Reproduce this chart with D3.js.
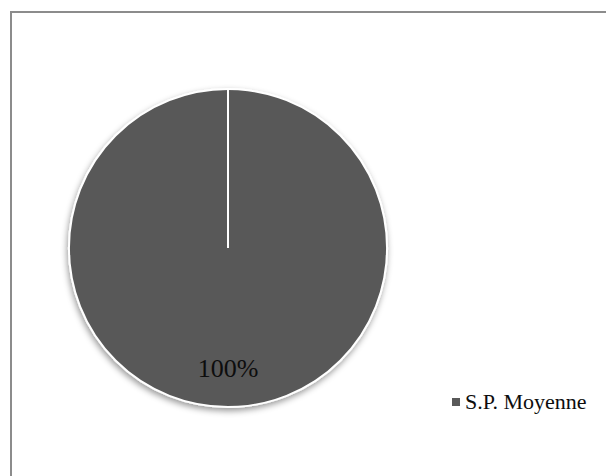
<!DOCTYPE html>
<html>
<head>
<meta charset="utf-8">
<script src="https://cdn.jsdelivr.net/npm/d3@7"></script>
<style>
  html, body { margin: 0; padding: 0; background: #fff; }
  svg { display: block; }
</style>
</head>
<body>
<svg id="chart" width="606" height="476"></svg>
<script>
// Series data
const categories = ["S.P. Moyenne"];
const values = [100];
const labels = ["100%"];
const colors = ["#595959"];

const W = 606, H = 476;
const svg = d3.select("#chart");

// Chart frame (continues past the right and bottom edges)
svg.append("rect")
  .attr("x", 11).attr("y", 12)
  .attr("width", W + 20).attr("height", H + 20)
  .attr("fill", "#fff")
  .attr("stroke", "#8c8c8c")
  .attr("stroke-width", 2);

// Soft shadow under the pie
const defs = svg.append("defs");
const f = defs.append("filter").attr("id", "shadow")
  .attr("x", "-20%").attr("y", "-20%").attr("width", "140%").attr("height", "140%");
f.append("feDropShadow")
  .attr("dx", -1).attr("dy", 3).attr("stdDeviation", 3)
  .attr("flood-color", "#000").attr("flood-opacity", 0.4);

const cx = 228, cy = 248, r = 159;

const pie = d3.pie().sort(null).value(d => d.value);
const arc = d3.arc().innerRadius(0).outerRadius(r);
const data = categories.map((c, i) => ({ name: c, value: values[i], label: labels[i], color: colors[i] }));
const arcs = pie(data);

const g = svg.append("g").attr("transform", `translate(${cx},${cy})`);

g.selectAll("path.slice")
  .data(arcs)
  .join("path")
  .attr("class", "slice")
  .attr("d", arc)
  .attr("fill", d => d.data.color)
  .attr("stroke", "#fff")
  .attr("stroke-width", 2)
  .attr("filter", "url(#shadow)");

// Slice boundary drawn from centre to the start angle
g.selectAll("line.edge")
  .data(arcs)
  .join("line")
  .attr("class", "edge")
  .attr("x1", 0).attr("y1", 0)
  .attr("x2", d => Math.sin(d.startAngle) * r)
  .attr("y2", d => -Math.cos(d.startAngle) * r)
  .attr("stroke", "#fff")
  .attr("stroke-width", 2);

// Percentage label placed at the slice centroid on an inner ring
const labelArc = d3.arc().innerRadius(r * 0.75).outerRadius(r * 0.75);
g.selectAll("text.pct")
  .data(arcs)
  .join("text")
  .attr("class", "pct")
  .attr("transform", d => `translate(${labelArc.centroid(d)})`)
  .attr("dy", "0.38em")
  .attr("text-anchor", "middle")
  .attr("font-family", "'Liberation Serif', 'Times New Roman', serif")
  .attr("font-size", 26)
  .attr("fill", "#0d0d0d")
  .text(d => d.data.label);

// Legend
const legend = svg.append("g").attr("transform", "translate(452,398)");
const items = legend.selectAll("g.item").data(data).join("g").attr("class", "item");
items.append("rect")
  .attr("x", 0).attr("y", 0).attr("width", 8).attr("height", 8)
  .attr("fill", d => d.color);
items.append("text")
  .attr("x", 13).attr("y", 11)
  .attr("font-family", "'Liberation Serif', 'Times New Roman', serif")
  .attr("font-size", 22)
  .attr("fill", "#0d0d0d")
  .text(d => d.name);
</script>
</body>
</html>
